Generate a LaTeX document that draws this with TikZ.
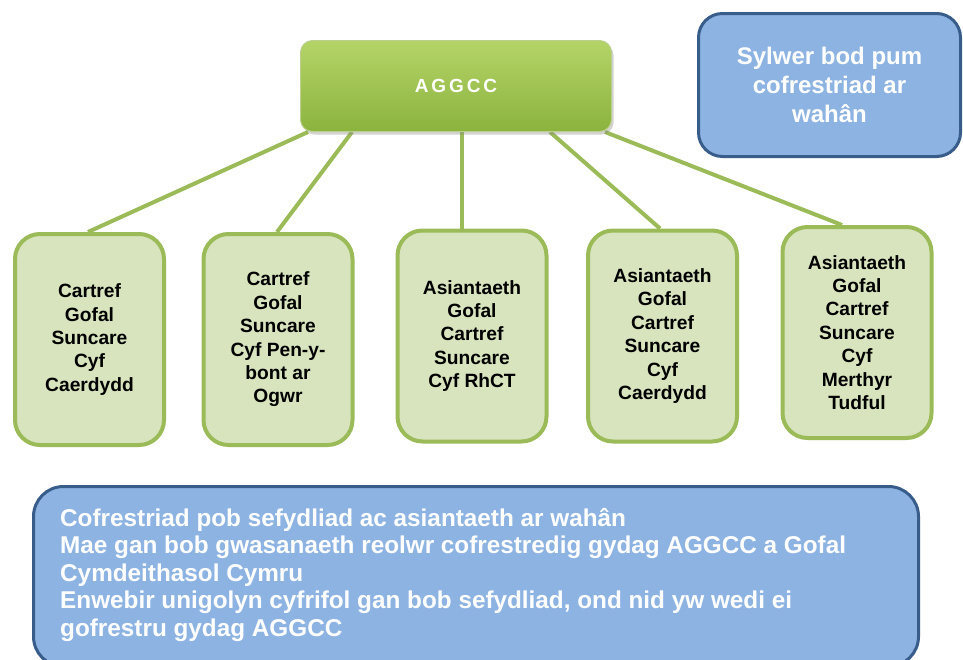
\documentclass[tikz,border=0pt]{standalone}
\usepackage{fontspec}
\setmainfont{Liberation Sans}
\newfontfamily\spacedfont[LetterSpace=15]{Liberation Sans}
\usepackage{tikz}
\usetikzlibrary{shadows,backgrounds}
\definecolor{leafgreen}{RGB}{155,187,89}
\definecolor{leaffill}{RGB}{215,228,189}
\definecolor{roottop}{RGB}{180,212,104}
\definecolor{rootbottom}{RGB}{140,179,62}
\definecolor{notefill}{RGB}{141,179,226}
\definecolor{noteline}{RGB}{56,93,138}

\begin{document}
\begin{tikzpicture}[x=1pt, y=-1pt,
    rootbox/.style={rectangle, rounded corners=12pt, draw=leafgreen!70!white, line width=1pt, top color=roottop, bottom color=rootbottom, minimum width=311pt, minimum height=91pt, drop shadow={opacity=0.35, shadow xshift=2pt, shadow yshift=-3pt}, text=white, font=\spacedfont\bfseries\fontsize{19}{23}\selectfont},
    leafbox/.style={rectangle, rounded corners=25pt, draw=leafgreen, line width=4pt, fill=leaffill, minimum width=149pt, minimum height=211pt, align=center, font=\bfseries\fontsize{19.2}{23.4}\selectfont},
    notebox/.style={rectangle, rounded corners=24pt, draw=noteline, line width=3pt, fill=notefill, text=white, align=center},
    branch/.style={draw=leafgreen, line width=4pt}]
        \clip (0,0) rectangle (963,659);
        \node[rootbox] (aggcc) at (456,86) {AGGCC};
        \node[leafbox] (c1) at (89.5,339.5) {Cartref\\Gofal\\Suncare\\Cyf\\Caerdydd};
        \node[leafbox] (c2) at (278,339.5) {Cartref\\Gofal\\Suncare\\Cyf Pen-y-\\bont ar\\Ogwr};
        \node[leafbox] (c3) at (472,336) {Asiantaeth\\Gofal\\Cartref\\Suncare\\Cyf RhCT};
        \node[leafbox] (c4) at (662.5,336) {Asiantaeth\\Gofal\\Cartref\\Suncare\\Cyf\\Caerdydd};
        \node[leafbox] (c5) at (857,332.5) {Asiantaeth\\Gofal\\Cartref\\Suncare\\Cyf\\Merthyr\\Tudful};
        \node[notebox, minimum width=262pt, minimum height=143pt, font=\bfseries\fontsize{24}{29}\selectfont] (note) at (829.5,85) {Sylwer bod pum\\cofrestriad ar\\wahân};
        \node[notebox, rounded corners=30pt, minimum width=885pt, minimum height=180pt] (summary) at (476,576.5) {};
        \node[anchor=north west, inner sep=0pt, align=left, text=white, font=\bfseries\fontsize{24.3}{27.5}\selectfont] (summarytext) at (60,508) {Cofrestriad pob sefydliad ac asiantaeth ar wahân\\Mae gan bob gwasanaeth reolwr cofrestredig gydag AGGCC a Gofal\\Cymdeithasol Cymru\\Enwebir unigolyn cyfrifol gan bob sefydliad, ond nid yw wedi ei\\gofrestru gydag AGGCC};
        \begin{scope}[on background layer]
            \draw[branch] ([xshift=-148pt]aggcc.south) -- ([xshift=-1.5pt]c1.north);
            \draw[branch] ([xshift=-104pt]aggcc.south) -- ([xshift=-1pt]c2.north);
            \draw[branch] ([xshift=6pt]aggcc.south) -- ([xshift=-10pt]c3.north);
            \draw[branch] ([xshift=94pt]aggcc.south) -- ([xshift=-2.5pt]c4.north);
            \draw[branch] ([xshift=149pt]aggcc.south) -- ([xshift=-15pt]c5.north);
        \end{scope}
    \end{tikzpicture}
\end{document}
